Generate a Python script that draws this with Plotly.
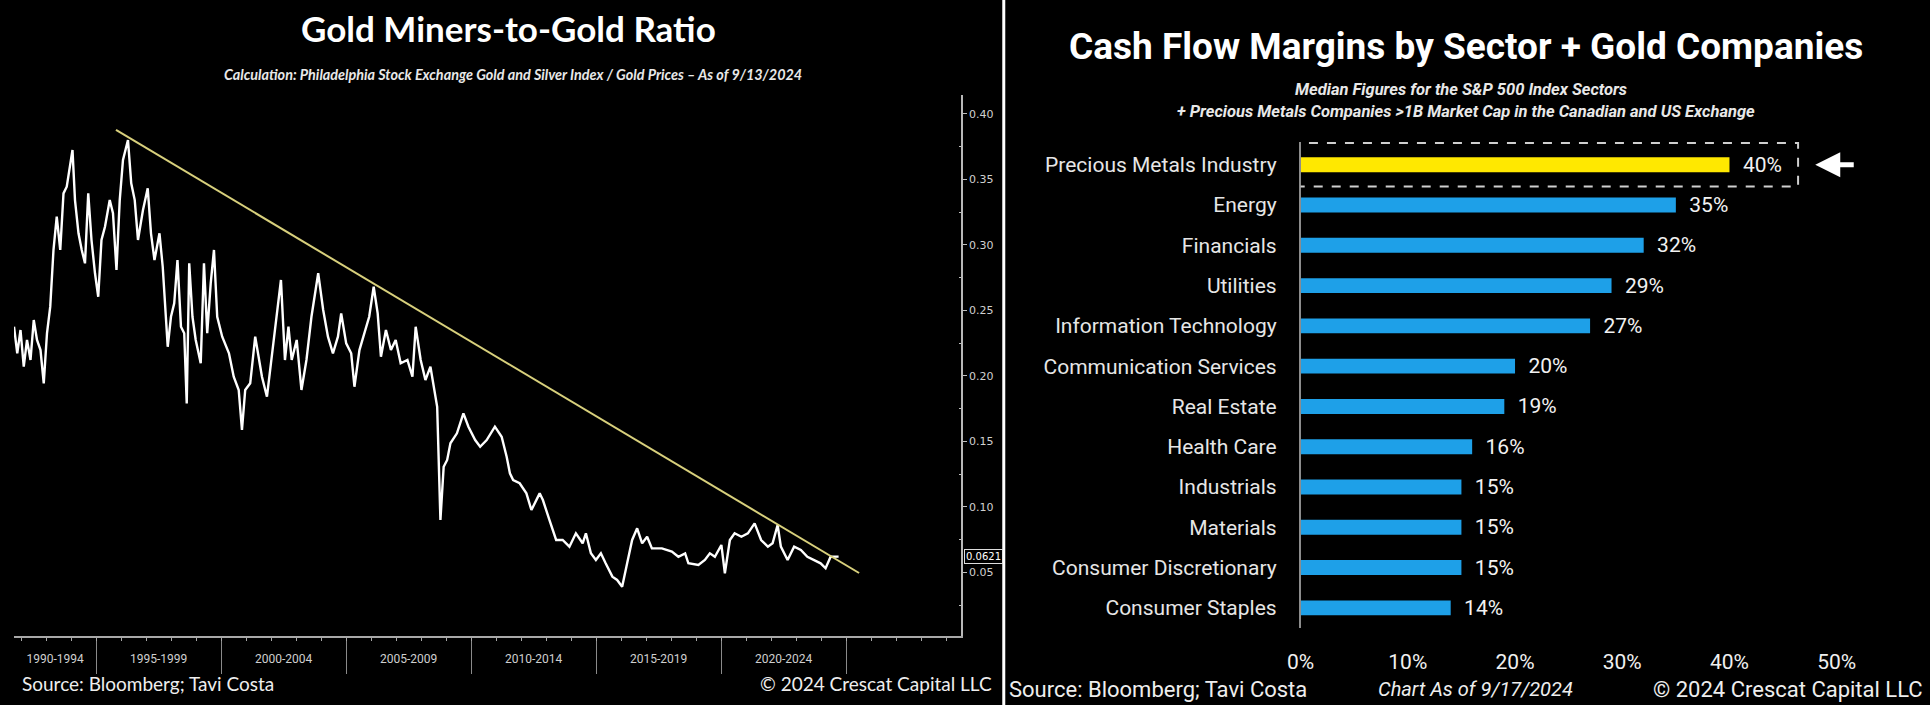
import plotly.graph_objects as go

# ---------------- Left chart data: Gold Miners-to-Gold ratio (XAU / Gold) ----------------
ratio_years = [
    1991.71, 1991.84, 1991.97, 1992.10, 1992.23, 1992.37, 1992.50, 1992.63, 1992.77, 1992.90,
    1993.03, 1993.16, 1993.29, 1993.42, 1993.56, 1993.69, 1993.82, 1993.96, 1994.05, 1994.15,
    1994.29, 1994.42, 1994.55, 1994.68, 1994.81, 1994.95, 1995.08, 1995.21, 1995.35, 1995.54,
    1995.67, 1995.81, 1995.94, 1996.07, 1996.27, 1996.40, 1996.54, 1996.67, 1996.87, 1997.06,
    1997.19, 1997.33, 1997.53, 1997.66, 1997.86, 1997.99, 1998.12, 1998.25, 1998.39, 1998.52,
    1998.62, 1998.72, 1998.85, 1998.98, 1999.18, 1999.31, 1999.44, 1999.58, 1999.71, 1999.84,
    2000.04, 2000.31, 2000.50, 2000.70, 2000.83, 2000.96, 2001.16, 2001.36, 2001.50, 2001.63,
    2001.83, 2002.02, 2002.22, 2002.39, 2002.55, 2002.69, 2002.82, 2003.02, 2003.21, 2003.41,
    2003.61, 2003.88, 2004.08, 2004.27, 2004.47, 2004.67, 2004.80, 2005.00, 2005.20, 2005.33,
    2005.53, 2005.73, 2005.92, 2006.10, 2006.26, 2006.39, 2006.59, 2006.79, 2006.98, 2007.18,
    2007.45, 2007.65, 2007.78, 2007.98, 2008.17, 2008.37, 2008.50, 2008.64, 2008.77, 2008.90,
    2009.04, 2009.17, 2009.43, 2009.69, 2009.89, 2010.16, 2010.36, 2010.62, 2010.95, 2011.22,
    2011.42, 2011.55, 2011.68, 2011.94, 2012.21, 2012.41, 2012.74, 2012.87, 2013.13, 2013.40,
    2013.66, 2013.93, 2014.19, 2014.46, 2014.59, 2014.79, 2014.99, 2015.19, 2015.38, 2015.65,
    2015.84, 2016.04, 2016.24, 2016.44, 2016.64, 2016.84, 2017.04, 2017.23, 2017.63, 2018.03,
    2018.29, 2018.56, 2018.69, 2019.09, 2019.35, 2019.55, 2019.75, 2020.01, 2020.15, 2020.35,
    2020.54, 2020.81, 2021.07, 2021.34, 2021.60, 2021.87, 2022.06, 2022.26, 2022.39, 2022.66,
    2022.92, 2023.19, 2023.45, 2023.72, 2023.98, 2024.18, 2024.38, 2024.70,
]
ratio_values = [
    0.2376, 0.2173, 0.2351, 0.2071, 0.2275, 0.2122, 0.2427, 0.2275, 0.2198, 0.1944,
    0.2326, 0.2529, 0.2962, 0.3216, 0.2962, 0.3394, 0.3445, 0.3597, 0.3725, 0.3343,
    0.3089, 0.2962, 0.2860, 0.3394, 0.3038, 0.2784, 0.2605, 0.3038, 0.3139, 0.3343,
    0.3242, 0.2809, 0.3343, 0.3649, 0.3801, 0.3471, 0.3343, 0.3038, 0.3267, 0.3433,
    0.3089, 0.2885, 0.3089, 0.2834, 0.2223, 0.2452, 0.2555, 0.2885, 0.2376, 0.2326,
    0.1791, 0.2860, 0.2452, 0.2275, 0.2097, 0.2860, 0.2326, 0.2707, 0.2962, 0.2452,
    0.2300, 0.2173, 0.1994, 0.1893, 0.1588, 0.1893, 0.1944, 0.2300, 0.2122, 0.1994,
    0.1842, 0.2147, 0.2452, 0.2733, 0.2122, 0.2376, 0.2122, 0.2275, 0.1893, 0.2122,
    0.2452, 0.2784, 0.2504, 0.2300, 0.2173, 0.2300, 0.2478, 0.2249, 0.2173, 0.1918,
    0.2198, 0.2326, 0.2452, 0.2681, 0.2478, 0.2147, 0.2351, 0.2198, 0.2275, 0.2097,
    0.2122, 0.1994, 0.2376, 0.2122, 0.1969, 0.2071, 0.1918, 0.1765, 0.0901, 0.1307,
    0.1359, 0.1486, 0.1562, 0.1715, 0.1613, 0.1511, 0.1460, 0.1511, 0.1613, 0.1536,
    0.1384, 0.1257, 0.1206, 0.1181, 0.1104, 0.0977, 0.1104, 0.1053, 0.0901, 0.0748,
    0.0748, 0.0697, 0.0799, 0.0723, 0.0799, 0.0646, 0.0595, 0.0646, 0.0570, 0.0468,
    0.0443, 0.0391, 0.0570, 0.0748, 0.0837, 0.0723, 0.0773, 0.0684, 0.0684, 0.0659,
    0.0620, 0.0646, 0.0570, 0.0557, 0.0595, 0.0646, 0.0620, 0.0710, 0.0494, 0.0748,
    0.0799, 0.0773, 0.0799, 0.0875, 0.0748, 0.0697, 0.0723, 0.0862, 0.0697, 0.0595,
    0.0697, 0.0672, 0.0620, 0.0595, 0.0570, 0.0532, 0.0620, 0.0621,
]
last_value = 0.0621

trend_years = [1995.79, 2025.52]
trend_values = [0.3878, 0.0496]

period_bounds = [1995, 2000, 2005, 2010, 2015, 2020, 2025]
period_labels = ["1990-1994", "1995-1999", "2000-2004", "2005-2009",
                 "2010-2014", "2015-2019", "2020-2024"]
left_y_ticks = [0.05, 0.10, 0.15, 0.20, 0.25, 0.30, 0.35, 0.40]

# ---------------- Right chart data: cash flow margins ----------------
sectors = ["Precious Metals Industry", "Energy", "Financials", "Utilities",
           "Information Technology", "Communication Services", "Real Estate",
           "Health Care", "Industrials", "Materials", "Consumer Discretionary",
           "Consumer Staples"]
margins = [0.40, 0.35, 0.32, 0.29, 0.27, 0.20, 0.19, 0.16, 0.15, 0.15, 0.15, 0.14]
pct_ticks = [0.0, 0.1, 0.2, 0.3, 0.4, 0.5]

# ---------------- Layout constants ----------------
W, H = 1930, 705
BLUE = "#1ea0e8"
YELLOW = "#ffe800"
x_range_left = [1991.71, 2029.6]

def px_x(p):
    return p / W

def px_y(p):
    return 1 - p / H

# label positions: centre of the visible part of each 5-year period
starts = [x_range_left[0]] + period_bounds[:-1]
label_pos = [(a + b) / 2 for a, b in zip(starts, period_bounds)]

fig = go.Figure()

fig.add_trace(go.Scatter(
    x=ratio_years, y=ratio_values, mode="lines",
    line=dict(color="white", width=2.4), xaxis="x", yaxis="y",
    showlegend=False, hoverinfo="x+y"))

fig.add_trace(go.Scatter(
    x=trend_years, y=trend_values, mode="lines",
    line=dict(color="#d8d07c", width=2), xaxis="x3", yaxis="y",
    showlegend=False))

bar_colors = [YELLOW if s == "Precious Metals Industry" else BLUE for s in sectors]
fig.add_trace(go.Bar(
    x=margins, y=sectors, orientation="h", xaxis="x2", yaxis="y2",
    marker=dict(color=bar_colors, line=dict(width=0)),
    text=["\u00a0\u00a0" + f"{m:.0%}" for m in margins], textposition="outside",
    constraintext="none",
    textfont=dict(family="Roboto", size=21, color="#f2f2f2"),
    cliponaxis=False, showlegend=False))

axis_font = dict(family="DejaVu Sans", size=11, color="#d0d0d0")

fig.update_layout(
    width=W, height=H, margin=dict(l=0, r=0, t=0, b=0),
    paper_bgcolor="black", plot_bgcolor="black",
    bargap=0.63,
    xaxis=dict(
        domain=[0, px_x(954)], range=x_range_left, anchor="y",
        tickmode="array", tickvals=label_pos, ticktext=period_labels,
        ticks="", tickfont=dict(family="Roboto", size=12, color="#cfcfcf"),
        ticklabelstandoff=11,
        minor=dict(tickmode="array", tickvals=period_bounds, ticks="outside",
                   ticklen=36, tickcolor="#8a8a8a", tickwidth=1, showgrid=False),
        showline=True, linecolor="#a8a8a8", linewidth=1.5,
        showgrid=False, zeroline=False, fixedrange=True),
    xaxis3=dict(
        domain=[0, px_x(954)], range=x_range_left, overlaying="x", anchor="y",
        tickmode="linear", tick0=1990, dtick=1, ticks="outside", ticklen=4,
        tickcolor="#a8a8a8", showticklabels=False, showline=False,
        showgrid=False, zeroline=False),
    yaxis=dict(
        domain=[px_y(636), px_y(95)], range=[0.0015, 0.4145], anchor="x",
        side="right", tickmode="array", tickvals=left_y_ticks, tickformat=".2f",
        ticks="outside", ticklen=4, tickcolor="#c0c0c0", tickfont=axis_font,
        minor=dict(tickmode="linear", tick0=0.025, dtick=0.05, ticks="inside",
                   ticklen=2, tickcolor="#c0c0c0", showgrid=False),
        showline=True, linecolor="#b8b8b8", linewidth=1.5,
        showgrid=False, zeroline=False),
    xaxis2=dict(
        domain=[px_x(1296), px_x(1890)], range=[0, 0.55], anchor="y2",
        tickmode="array", tickvals=pct_ticks, tickformat=".0%", ticks="",
        tickfont=dict(family="Roboto", size=21, color="#f0f0f0"),
        ticklabelstandoff=19, showline=False, showgrid=False, zeroline=False),
    yaxis2=dict(
        domain=[px_y(628), px_y(142)], anchor="x2",
        categoryorder="array", categoryarray=sectors, autorange="reversed",
        ticks="", tickfont=dict(family="Roboto", size=21, color="#e6e6e6"),
        ticklabelstandoff=18, showline=True, linecolor="#8c8c8c", linewidth=1.5,
        showgrid=False, zeroline=False),
)

# divider between the two panels
fig.add_shape(type="line", xref="paper", yref="paper",
              x0=px_x(997), x1=px_x(997), y0=0, y1=1,
              line=dict(color="white", width=3))

# dashed highlight box around the precious-metals bar
pm_idx = sectors.index("Precious Metals Industry")
pm_val = margins[pm_idx]
fig.add_shape(type="rect", xref="x2", yref="y2",
              x0=-0.009, x1=pm_val + 0.064, y0=pm_idx - 0.54, y1=pm_idx + 0.54,
              line=dict(color="#cfcfcf", width=2, dash="dash"))

# white arrow pointing at the box
fig.add_annotation(xref="x2", yref="y2", x=pm_val + 0.080, y=pm_idx,
                   ax=40, ay=0, text="", showarrow=True,
                   arrowhead=2, arrowsize=1.0, arrowwidth=5, arrowcolor="white")

# last-value tag on the left y axis
fig.add_annotation(xref="paper", yref="y", x=px_x(957), y=last_value,
                   xanchor="left", yanchor="middle", text=f"{last_value:.4f}",
                   showarrow=False, font=dict(family="DejaVu Sans", size=10, color="white"),
                   bgcolor="black", bordercolor="#dddddd", borderwidth=1, borderpad=1)

def txt(x, y, text, size, family, xanchor="center", color="white"):
    fig.add_annotation(xref="paper", yref="paper", x=px_x(x), y=px_y(y),
                       xanchor=xanchor, yanchor="middle", text=text, showarrow=False,
                       font=dict(family=family, size=size, color=color))

# left panel texts
txt(498, 28, "<b>Gold Miners-to-Gold Ratio</b>", 35, "Lato")
txt(503, 74, "<b><i>Calculation: Philadelphia Stock Exchange Gold and Silver Index / Gold Prices \u2013 As of 9/13/2024</i></b>",
    14.4, "Lato", color="#e8e8e8")
txt(6, 683, "Source: Bloomberg; Tavi Costa", 19, "Lato", xanchor="left", color="#eeeeee")
txt(987, 683, "\u00a9 2024 Crescat Capital LLC", 19, "Lato", xanchor="right", color="#eeeeee")

# right panel texts
txt(1463, 47, "<b>Cash Flow Margins by Sector + Gold Companies</b>", 37, "Roboto")
txt(1458, 90, "<b><i>Median Figures for the S&P 500 Index Sectors</i></b>", 16.5, "Roboto", color="#e8e8e8")
txt(1463, 111, "<b><i>+ Precious Metals Companies >1B Market Cap in the Canadian and US Exchange</i></b>",
    16.5, "Roboto", color="#e8e8e8")
txt(1000, 689, "Source: Bloomberg; Tavi Costa", 22, "Roboto", xanchor="left", color="#eeeeee")
txt(1472, 689, "<i>Chart As of 9/17/2024</i>", 20, "Roboto", color="#eeeeee")
txt(1925, 689, "\u00a9 2024 Crescat Capital LLC", 22, "Roboto", xanchor="right", color="#eeeeee")

fig.write_html("out.html")
